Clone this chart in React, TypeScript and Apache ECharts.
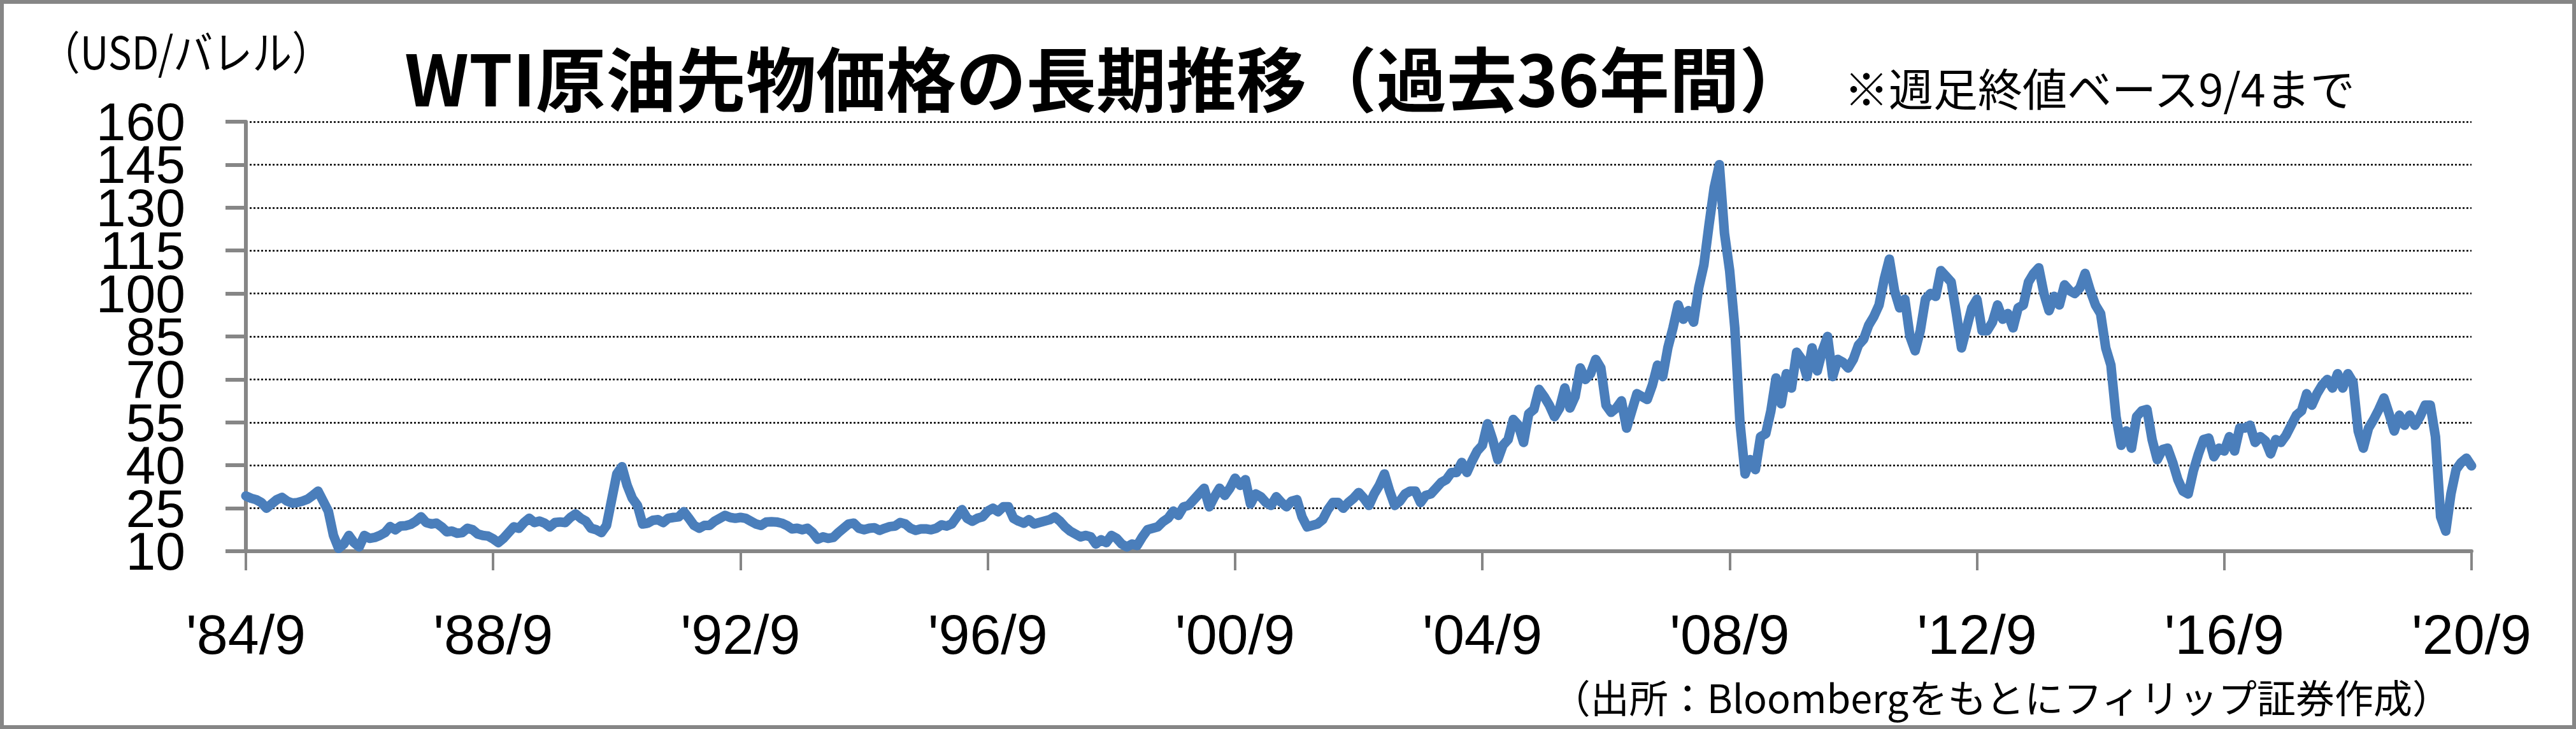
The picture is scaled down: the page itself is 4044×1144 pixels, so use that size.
import React, { useEffect, useRef } from "react";
import * as echarts from "echarts";

const START_YEAR = 1984;
const START_MONTH = 9;

const prices1980s = [
  29.3, 28.5, 28.0, 27.0, // 1984 Sep-Dec
  25.0, 26.5, 28.0, 28.8, 27.5, 26.8, 27.0, 27.5, 28.2, 29.5, 31.0, 27.5, // 1985
  24.0, 15.5, 11.0, 12.5, 15.5, 13.0, 11.5, 15.5, 14.5, 14.8, 15.5, 16.5, // 1986
  18.6, 17.5, 18.8, 18.9, 19.4, 20.5, 22.0, 20.0, 19.5, 19.8, 18.5, 16.8, // 1987
  17.0, 16.3, 16.5, 18.0, 17.5, 16.0, 15.5, 15.3, 14.3, 13.0, 14.5, 16.5, // 1988
  18.5, 18.0, 20.0, 21.5, 20.0, 20.5, 19.8, 18.5, 20.0, 20.2, 20.0, 21.8, // 1989
];

const prices1990s = [
  23.0, 21.5, 20.5, 18.0, 17.5, 16.5, 19.0, 28.0, 37.0, 39.5, 33.0, 28.5, // 1990
  26.0, 19.5, 19.8, 20.8, 21.0, 20.0, 21.5, 21.8, 22.0, 23.8, 21.5, 19.0, // 1991
  18.0, 19.0, 19.0, 20.5, 21.5, 22.5, 21.8, 21.5, 21.8, 21.5, 20.5, 19.5, // 1992
  19.0, 20.2, 20.3, 20.2, 19.8, 19.0, 17.8, 18.0, 17.5, 18.0, 16.5, 14.2, // 1993
  15.0, 14.5, 14.8, 16.5, 18.0, 19.5, 19.8, 18.0, 17.5, 18.0, 18.2, 17.3, // 1994
  18.0, 18.6, 18.8, 20.0, 19.5, 18.0, 17.3, 17.8, 17.8, 17.5, 18.0, 19.2, // 1995
  18.8, 19.5, 22.0, 24.5, 21.5, 20.5, 21.5, 22.0, 24.0, 25.0, 23.8, 25.5, // 1996
  25.5, 21.5, 20.5, 19.8, 21.0, 19.5, 20.0, 20.5, 21.0, 22.0, 20.5, 18.5, // 1997
  17.0, 16.0, 15.0, 15.5, 15.0, 12.5, 14.0, 13.0, 15.5, 14.5, 12.5, 11.5, // 1998
  12.5, 12.0, 15.0, 17.5, 18.0, 18.5, 20.3, 21.5, 24.0, 22.5, 25.5, 26.0, // 1999
];

const prices2000s = [
  28.0, 30.0, 32.0, 25.5, 29.0, 32.0, 29.5, 32.0, 35.5, 33.0, 35.0, 26.5, // 2000
  30.0, 29.0, 27.0, 26.0, 29.0, 27.0, 25.5, 27.5, 28.0, 22.0, 18.5, 19.0, // 2001
  19.5, 21.0, 24.5, 27.0, 27.0, 25.0, 27.0, 28.5, 30.5, 28.5, 26.0, 30.0, // 2002
  33.0, 37.0, 31.0, 26.0, 27.5, 30.0, 31.0, 31.0, 27.0, 29.5, 30.0, 32.0, // 2003
  34.0, 35.0, 37.5, 37.5, 41.0, 37.5, 41.5, 45.0, 47.0, 54.5, 49.0, 42.0, // 2004
  47.0, 49.0, 56.0, 54.0, 48.0, 58.0, 59.5, 66.5, 64.0, 61.0, 57.0, 60.0, // 2005
  67.0, 60.0, 64.0, 74.0, 70.0, 72.0, 77.0, 74.0, 61.0, 58.5, 60.0, 62.5, // 2006
  53.0, 59.0, 65.0, 64.0, 63.0, 68.0, 75.0, 71.0, 81.0, 88.0, 96.0, 91.0, // 2007
  94.0, 90.0, 102.0, 110.0, 124.0, 137.0, 145.0, 121.0, 108.0, 88.0, 55.0, 37.0, // 2008
  42.0, 38.5, 50.0, 51.0, 59.0, 70.5, 61.5, 72.0, 67.0, 79.5, 77.0, 71.0, // 2009
];

const prices2010s = [
  81.0, 73.0, 80.0, 85.0, 71.0, 77.0, 76.0, 74.0, 77.0, 82.0, 84.0, 89.0, // 2010
  92.0, 96.0, 105.0, 112.0, 101.0, 95.0, 98.0, 85.0, 80.0, 87.0, 98.0, 100.0, // 2011
  99.0, 108.0, 106.0, 104.0, 93.0, 81.0, 88.0, 95.0, 98.0, 87.0, 87.0, 90.0, // 2012
  96.0, 91.0, 93.0, 88.0, 95.0, 96.0, 104.0, 107.0, 109.0, 100.0, 94.0, 99.0, // 2013
  96.0, 103.0, 101.0, 100.0, 102.0, 107.0, 101.0, 96.0, 93.0, 81.0, 75.0, 57.0, // 2014
  47.0, 52.0, 46.0, 57.0, 59.0, 59.5, 49.0, 42.0, 45.5, 46.0, 41.0, 35.0, // 2015
  31.0, 30.0, 38.0, 44.0, 49.0, 49.5, 43.0, 46.0, 45.0, 50.0, 45.0, 53.0, // 2016
  53.0, 54.0, 48.0, 50.0, 48.5, 44.0, 49.0, 48.0, 50.5, 54.0, 57.5, 59.0, // 2017
  65.0, 61.0, 65.0, 68.0, 70.0, 67.0, 72.0, 67.0, 72.0, 69.0, 52.0, 46.0, // 2018
  53.0, 56.0, 59.5, 63.5, 58.0, 52.0, 57.5, 54.0, 57.5, 54.0, 57.0, 61.0, // 2019
];

const prices2020 = [61.0, 50.0, 22.0, 17.0, 30.0, 38.5, 41.0, 42.5, 39.8]; // 2020 Jan-Sep

const Y_MIN = 10;
const Y_MAX = 160;
const Y_INTERVAL = 15;
const yTickLabels = [10, 25, 40, 55, 70, 85, 100, 115, 130, 145, 160];
const LABEL_EVERY_MONTHS = 48;

const TITLE = "WTI原油先物価格の長期推移（過去36年間）";
const UNIT = "（USD/バレル）";
const NOTE = "※週足終値ベース9/4まで";
const SOURCE = "（出所：Bloombergをもとにフィリップ証券作成）";

const prices = [...prices1980s, ...prices1990s, ...prices2000s, ...prices2010s, ...prices2020];
const months: string[] = prices.map((_, i) => {
  const t = START_MONTH - 1 + i;
  const y = START_YEAR + Math.floor(t / 12);
  const m = (t % 12) + 1;
  return `${y}/${m}`;
});
// the labels are split over two stacked axes so that none of them is auto-hidden
const yLabelsEven = yTickLabels.filter((_, i) => i % 2 === 0);
const yLabelsOdd = yTickLabels.filter((_, i) => i % 2 === 1);

const CJK = '"Noto Sans CJK JP", "Noto Sans", sans-serif';
const yLabelStyle = {
  fontSize: 84,
  fontFamily: '"Liberation Sans", sans-serif',
  color: "#000",
  margin: 95,
  showMinLabel: true,
  showMaxLabel: true,
};

export default function App() {
  const ref = useRef<HTMLDivElement>(null);
  useEffect(() => {
    document.body.style.margin = "0";
    const chart = echarts.init(ref.current!, null, { renderer: "svg" });
    chart.setOption({
      animation: false,
      backgroundColor: "#ffffff",
      grid: { left: 386, right: 164, top: 191, bottom: 279, containLabel: false },
      xAxis: {
        type: "category",
        data: months,
        boundaryGap: false,
        axisLine: { show: true, lineStyle: { color: "#868686", width: 6 } },
        axisTick: {
          show: true,
          interval: LABEL_EVERY_MONTHS - 1,
          length: 30,
          lineStyle: { color: "#868686", width: 4 },
        },
        axisLabel: {
          interval: LABEL_EVERY_MONTHS - 1,
          formatter: (v: string) => "'" + v.slice(2),
          fontSize: 88,
          fontFamily: '"Liberation Sans", sans-serif',
          color: "#000",
          margin: 86,
        },
        splitLine: { show: false },
      },
      yAxis: [
        {
          type: "value",
          position: "left",
          min: Y_MIN,
          max: Y_MAX,
          interval: Y_INTERVAL,
          axisLine: { show: true, lineStyle: { color: "#868686", width: 6 } },
          axisTick: { show: true, length: 32, lineStyle: { color: "#868686", width: 6 } },
          axisLabel: { ...yLabelStyle, customValues: yLabelsEven },
          splitLine: {
            show: true,
            showMinLine: false,
            lineStyle: { color: "#000", width: 2.5, type: [3, 3] },
          },
        },
        {
          type: "value",
          position: "left",
          offset: 0,
          min: Y_MIN,
          max: Y_MAX,
          interval: Y_INTERVAL,
          axisLine: { show: false },
          axisTick: { show: false },
          axisLabel: { ...yLabelStyle, customValues: yLabelsOdd },
          splitLine: { show: false },
        },
      ],
      series: [
        {
          type: "line",
          yAxisIndex: 0,
          data: prices,
          symbol: "none",
          showSymbol: false,
          clip: false,
          lineStyle: { color: "#4A7EBB", width: 15, join: "round", cap: "round" },
          z: 3,
        },
      ],
      graphic: [
        {
          type: "rect",
          silent: true,
          z: 100,
          shape: { x: 3, y: 3, width: 4038, height: 1138 },
          style: { fill: "none", stroke: "#868686", lineWidth: 6 },
        },
        {
          type: "text",
          x: 292,
          y: 78,
          scaleY: 1.15,
          style: {
            text: UNIT,
            fontSize: 62,
            fontFamily: CJK,
            fill: "#000",
            textAlign: "center",
            align: "center",
            textVerticalAlign: "middle",
            verticalAlign: "middle",
          },
        },
        {
          type: "text",
          x: 1738,
          y: 119,
          style: {
            text: TITLE,
            fontSize: 110,
            fontWeight: "bold",
            fontFamily: CJK,
            fill: "#000",
            textAlign: "center",
            align: "center",
            textVerticalAlign: "middle",
            verticalAlign: "middle",
          },
        },
        {
          type: "text",
          x: 2895,
          y: 136,
          style: {
            text: NOTE,
            fontSize: 70,
            fontFamily: CJK,
            fill: "#000",
            textAlign: "left",
            align: "left",
            textVerticalAlign: "middle",
            verticalAlign: "middle",
          },
        },
        {
          type: "text",
          x: 3848,
          y: 1092,
          style: {
            text: SOURCE,
            fontSize: 61,
            fontFamily: CJK,
            fill: "#000",
            textAlign: "right",
            align: "right",
            textVerticalAlign: "middle",
            verticalAlign: "middle",
          },
        },
      ],
    });
    return () => chart.dispose();
  }, []);
  return <div ref={ref} style={{ width: 4044, height: 1144 }} />;
}
